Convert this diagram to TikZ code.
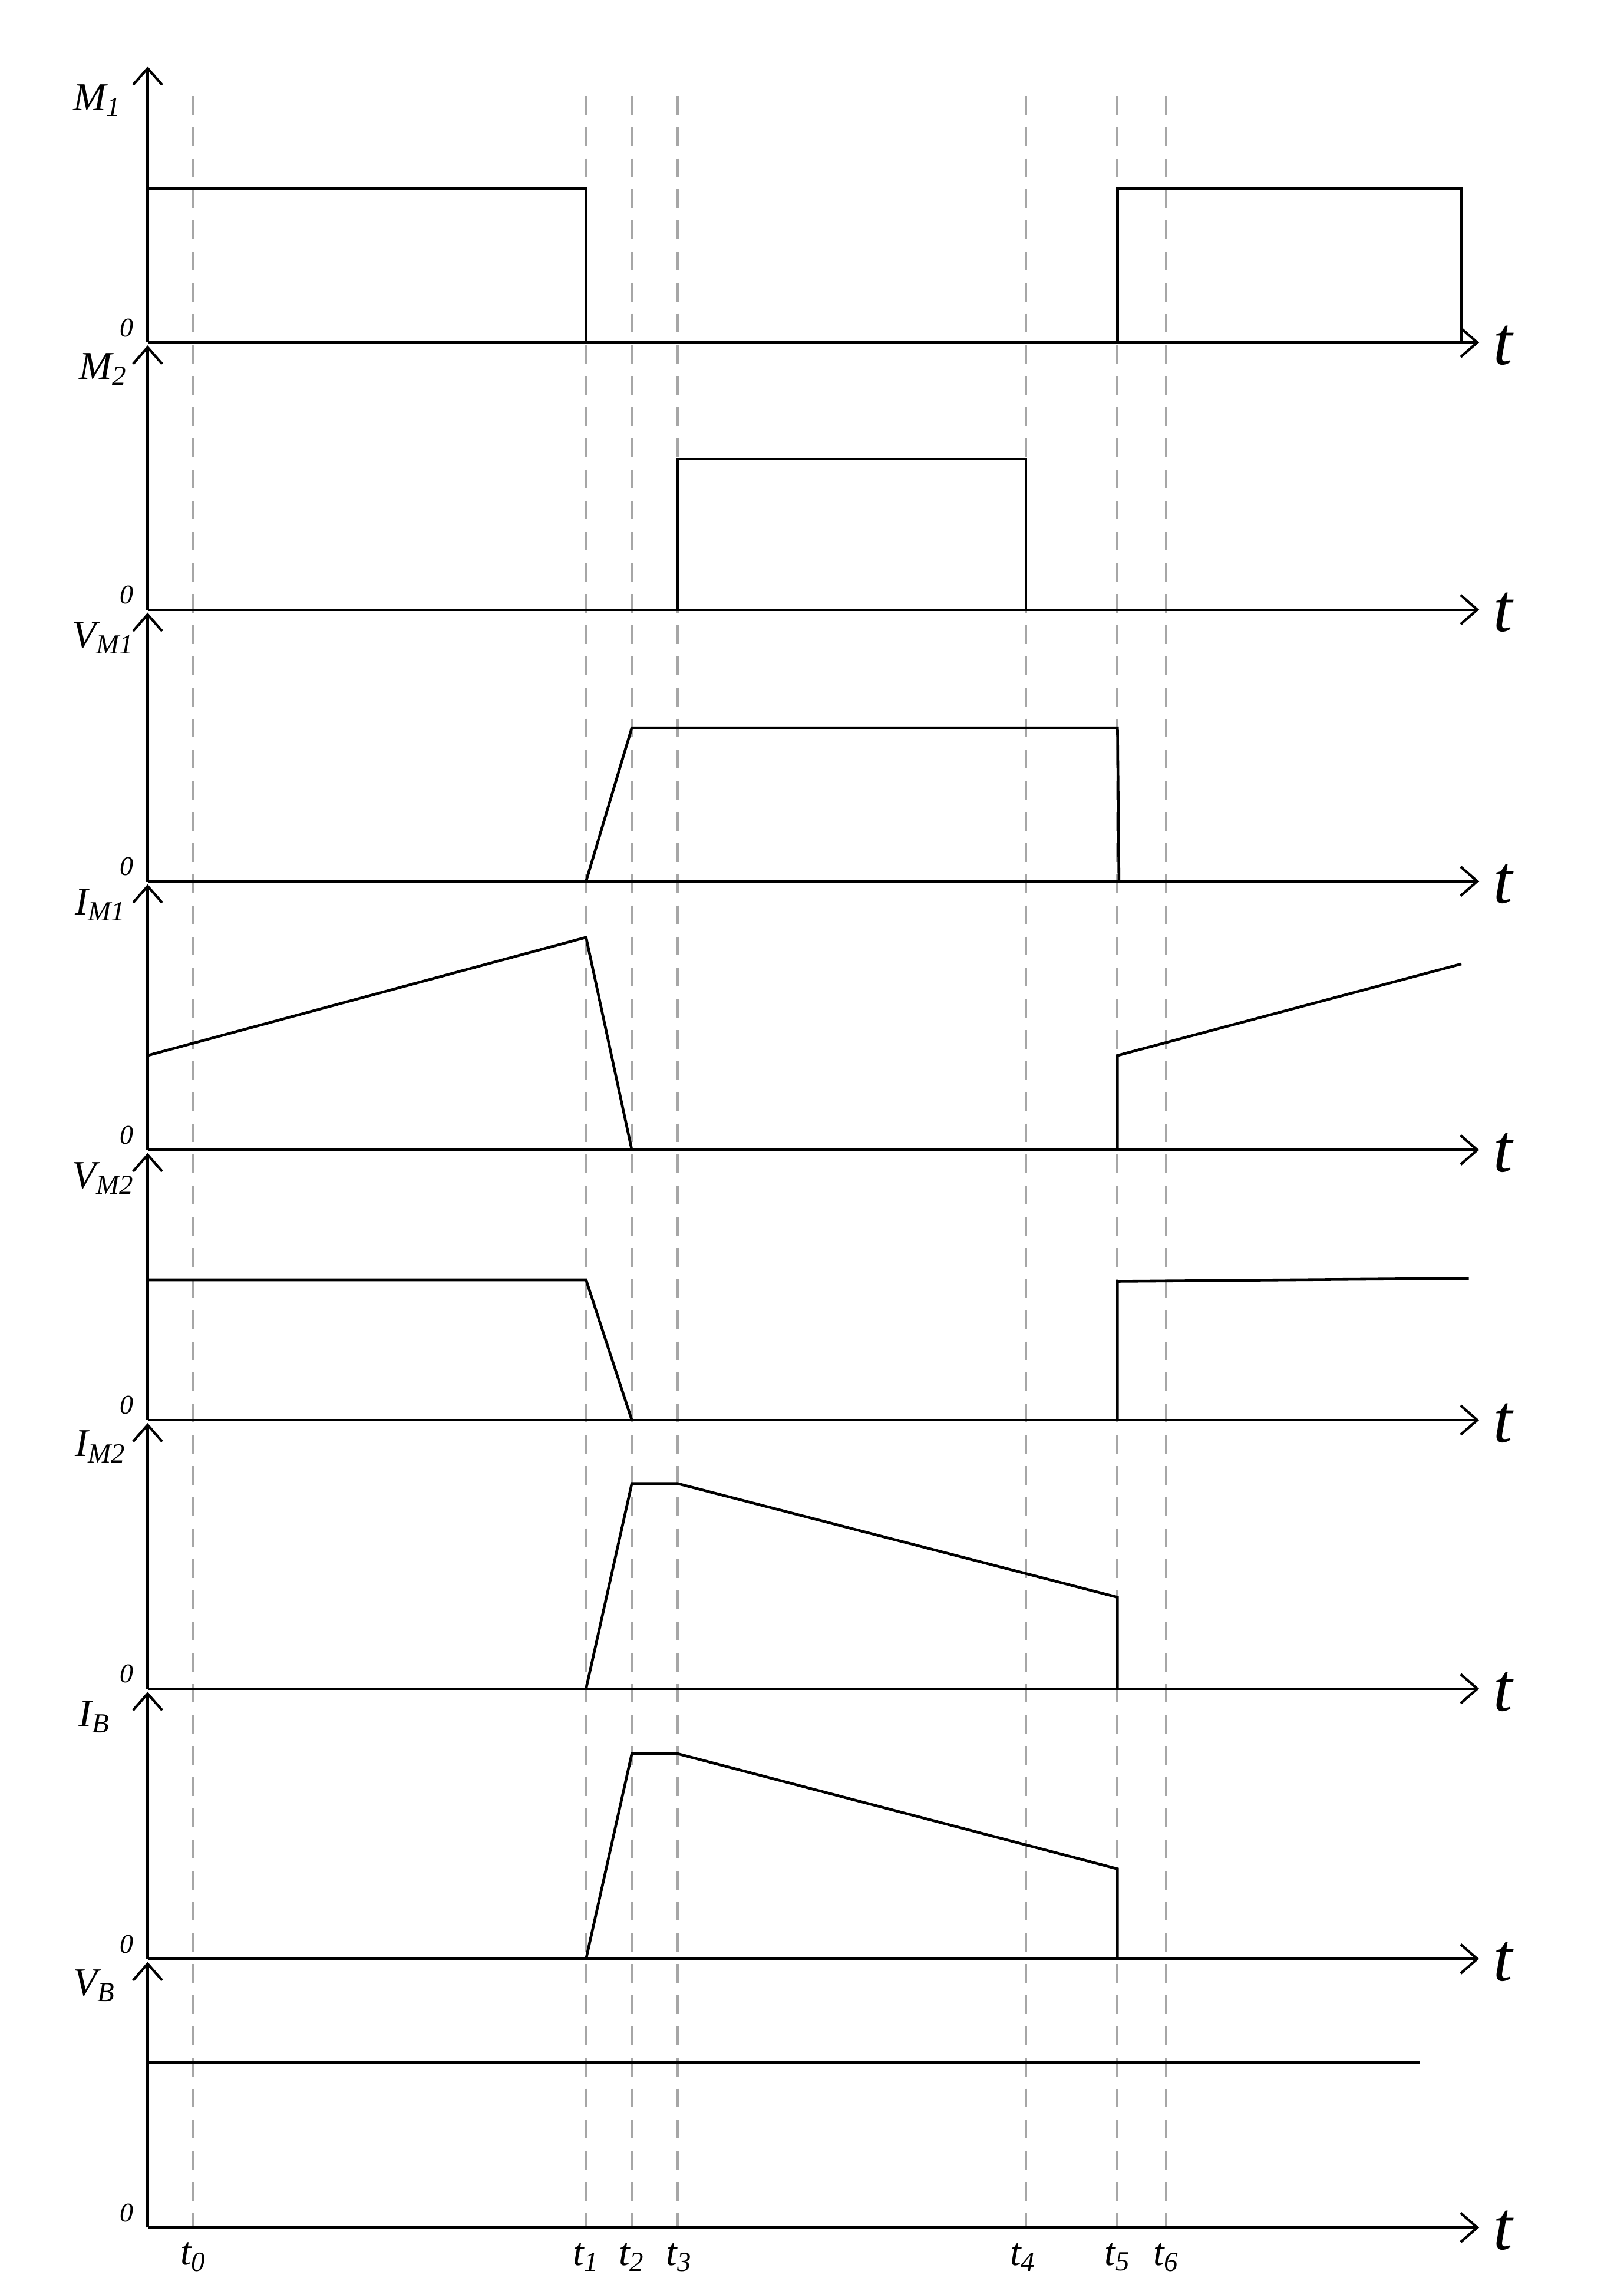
\documentclass[tikz,border=0pt]{standalone}
\usetikzlibrary{arrows.meta}
\usepackage{fontspec}
\setmainfont{Liberation Serif}
\begin{document}
\begin{tikzpicture}[x=0.025cm,y=-0.025cm,
  ax/.style={line width=1.2pt,-{Straight Barb[length=8pt,width=14pt]}},
  wave/.style={line width=1.3pt,line join=miter},
  dsh/.style={gray!70,line width=1.1pt,dash pattern=on 9pt off 6pt},
  lab/.style={font=\fontsize{19}{19}\selectfont\itshape,inner sep=0pt},
  zero/.style={font=\fontsize{13}{13}\selectfont\itshape,inner sep=0pt},
  tl/.style={font=\fontsize{33}{33}\selectfont\itshape,inner sep=0pt},
  tk/.style={font=\fontsize{19}{19}\selectfont\itshape,inner sep=0pt}]
\useasboundingbox (0,0) rectangle (1100,1552);
\foreach \x in {131,397,428,459,695,757,790} \draw[dsh] (\x,65) -- (\x,1509);
% vertical axes
\draw[ax] (100,232) -- (100,45);
\foreach \a/\b in {413/232,597/413,779/597,962/779,1144/962,1327/1144,1509/1327}
  \draw[ax] (100,\a) -- (100,\b+2);
% horizontal axes
\foreach \y in {232,413,597,779,962,1144,1327,1509}{
  \draw[ax] (100,\y) -- (1002,\y);
  \node[tl] at (1018,\y+2) {t};
  \node[zero] at (86,\y-10) {0};}
\node[lab] at (66,68) {M\textsubscript{1}};
\node[lab] at (70,250) {M\textsubscript{2}};
\node[lab] at (70,432) {V\textsubscript{M1}};
\node[lab] at (68,613) {I\textsubscript{M1}};
\node[lab] at (70,798) {V\textsubscript{M2}};
\node[lab] at (68,980) {I\textsubscript{M2}};
\node[lab] at (64,1163) {I\textsubscript{B}};
\node[lab] at (64,1345) {V\textsubscript{B}};
\foreach \x/\n in {131/0,397/1,428/2,460/3,693/4,757/5,790/6}
  \node[tk] at (\x,1529) {t\textsubscript{\n}};
% waveforms
\draw[wave] (100,128) -- (397,128) -- (397,232);
\draw[wave] (757,232) -- (757,128) -- (990,128) -- (990,232);
\draw[wave] (459,413) -- (459,311) -- (695,311) -- (695,413);
\draw[wave] (397,597) -- (428,493) -- (757,493) -- (758,597);
\draw[wave] (100,715) -- (397,635) -- (428,779);
\draw[wave] (757,779) -- (757,715) -- (990,653);
\draw[wave] (100,867) -- (397,867) -- (428,962);
\draw[wave] (757,962) -- (757,868) -- (995,866);
\draw[wave] (397,1144) -- (428,1005) -- (459,1005) -- (757,1082) -- (757,1144);
\draw[wave] (397,1327) -- (428,1188) -- (459,1188) -- (757,1266) -- (757,1327);
\draw[wave] (100,1397) -- (962,1397);
\end{tikzpicture}
\end{document}
